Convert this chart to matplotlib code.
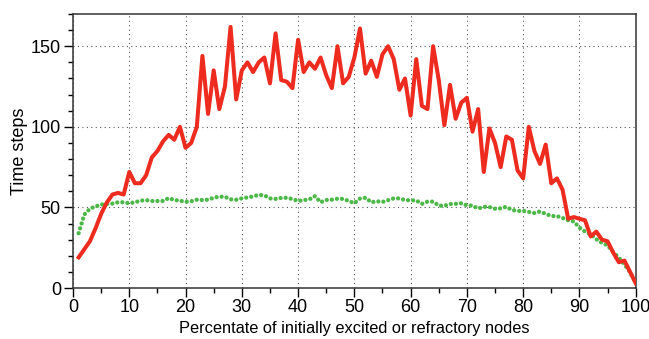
import numpy as np
import matplotlib.pyplot as plt
from matplotlib.ticker import MultipleLocator

plt.rcParams['font.family'] = ['Liberation Sans Narrow', 'Liberation Sans', 'DejaVu Sans']

x = np.arange(1, 101)
red = [19, 24, 29, 37, 46, 53, 58, 59, 58, 72,
       65, 65, 70, 81, 85, 91, 95, 92, 100, 87,
       90, 100, 144, 108, 135, 111, 125, 162, 117, 135,
       140, 134, 140, 143, 127, 158, 129, 128, 124, 154,
       134, 140, 136, 143, 132, 124, 150, 127, 131, 143,
       161, 133, 141, 131, 145, 150, 142, 123, 130, 107,
       142, 113, 111, 150, 129, 101, 126, 105, 115, 118,
       97, 111, 72, 99, 90, 75, 94, 92, 73, 68,
       100, 85, 77, 89, 65, 68, 61, 43, 44, 43,
       42, 32, 35, 30, 29, 22, 16, 17, 10, 3]
green = [34, 45.5, 49.2, 50.6, 51.8, 52.2, 52.4, 53.2, 53.2, 52.6,
         53.2, 54.2, 54.5, 54, 54, 54, 55.8, 54.6, 54.2, 53.5,
         53.8, 54.8, 54.6, 54.8, 56, 56.7, 56.6, 55, 54.8, 55.6,
         56.2, 56.8, 57.8, 57.5, 55.6, 55.3, 55.9, 56, 55.2, 54,
         54.5, 55, 57, 53.2, 54.6, 54.8, 55.4, 55.3, 54, 52.6,
         55.5, 56, 53.2, 53.8, 53.4, 54.5, 55.6, 55.6, 54.6, 54.4,
         54.3, 52.2, 53.6, 53.6, 51.1, 51, 52.1, 52.2, 52.6, 51.3,
         51.1, 49.3, 50.4, 50.2, 49.2, 49.4, 50.4, 48.5, 47.8, 47.9,
         47.2, 46.5, 47.5, 46, 44.7, 44.6, 43.5, 42, 41.3, 37.5,
         35, 33.3, 30.3, 28, 26.5, 22.3, 18.8, 14.6, 9.8, 3]

fig = plt.figure(figsize=(6.49, 3.39), dpi=100)
ax = fig.add_axes([0.1125, 0.1504, 0.867, 0.8083])

ax.plot(x, green, color='#4cb848', lw=3.1, linestyle=(0, (0.01, 1.17)),
        dash_capstyle='round', zorder=2)
ax.plot(x, red, color='#ee2b1f', lw=2.9, zorder=3)

ax.set_xlim(0, 100)
ax.set_ylim(0, 170)
ax.xaxis.set_major_locator(MultipleLocator(10))
ax.xaxis.set_minor_locator(MultipleLocator(5))
ax.yaxis.set_major_locator(MultipleLocator(50))
ax.yaxis.set_minor_locator(MultipleLocator(10))
ax.tick_params(which='major', length=6.7, width=1, labelsize=13)
ax.tick_params(axis='x', which='major', pad=1)
ax.tick_params(axis='y', which='major', pad=2)
ax.tick_params(which='minor', length=3.4, width=1)
ax.grid(True, which='major', linestyle=(0, (1, 3)), color='#555555', lw=0.8)
for s in ax.spines.values():
    s.set_linewidth(1.1)
    s.set_color('#333333')

ax.set_xlabel('Percentate of initially excited or refractory nodes', fontsize=11.8, labelpad=4)
ax.set_ylabel('Time steps', fontsize=13, labelpad=2)

fig.savefig('out.png', dpi=100)
